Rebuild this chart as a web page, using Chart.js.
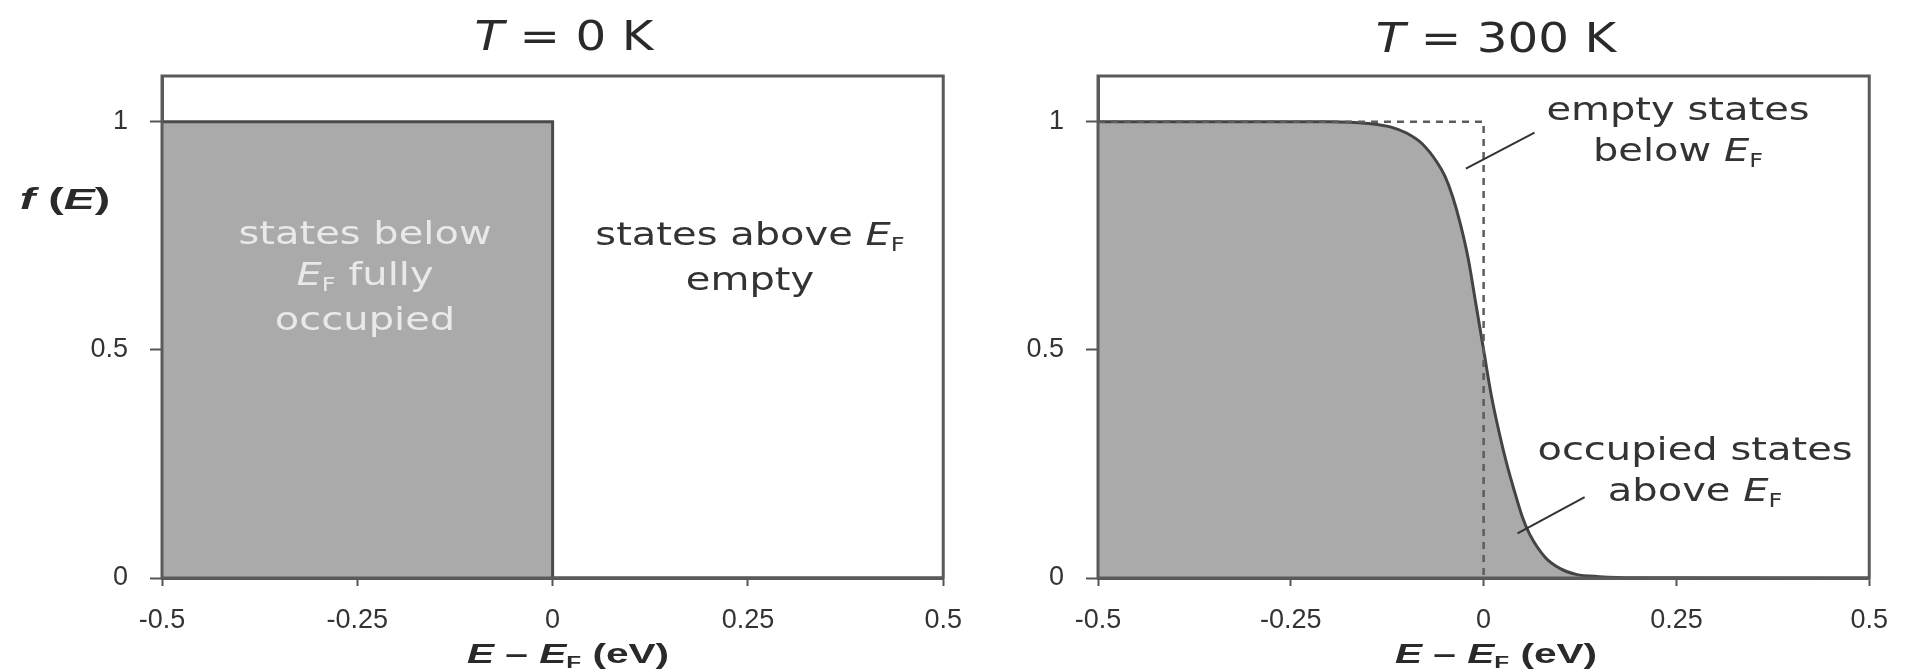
<!DOCTYPE html>
<html lang="en">
<head>
<meta charset="UTF-8">
<title>Fermi-Dirac occupancy at 0 K and 300 K</title>
<script src="https://cdn.jsdelivr.net/npm/chart.js"></script>
<style>
    body {
        margin: 0;
        width: 1906px;
        height: 671px;
        position: relative;
        overflow: hidden;
        background: #fff;
        font-family: 'DejaVu Sans', sans-serif;
        color: #2a2a2a;
    }
    .panel { position: absolute; top: 0; height: 671px; }
    #left { left: 0; width: 980px; }
    #right { left: 980px; width: 926px; }
    .lbl {
        position: absolute;
        white-space: nowrap;
        text-align: center;
        transform: translate(-50%, -50%) scaleX(1.25);
    }
    .title { font-size: 41px; transform: translate(-50%, -50%) scaleX(1.18); }
    .note { font-size: 32px; line-height: 41px; color: #333; }
    .inside { color: #e9e9e9; }
    .axis {
        font-family: 'Liberation Sans', Arial, sans-serif;
        font-weight: bold;
        font-size: 28px;
        transform: translate(-50%, -50%) scaleX(1.45);
    }
    .fe { font-size: 30px; transform: translate(-50%, -50%) scaleX(1.55); }
    .sub { font-size: 0.6em; font-style: normal; position: relative; top: 0.3em; }
</style>
</head>
<body>
    <div class="panel" id="left"><canvas id="cold"></canvas></div>
    <div class="panel" id="right"><canvas id="warm"></canvas></div>

    <div class="lbl title" style="left:564px; top:36px;"><i>T</i> = 0 K</div>
    <div class="lbl title" style="left:1496px; top:38px;"><i>T</i> = 300 K</div>

    <div class="lbl axis fe" style="left:65px; top:199px;"><i>f</i> (<i>E</i>)</div>
    <div class="lbl axis" style="left:568px; top:654px;"><i>E</i> – <i>E</i><span class="sub">F</span> (eV)</div>
    <div class="lbl axis" style="left:1496px; top:654px;"><i>E</i> – <i>E</i><span class="sub">F</span> (eV)</div>

    <div class="lbl note inside" style="left:365px; top:276px;">states below<br><i>E</i><span class="sub">F</span> fully<br>occupied</div>
    <div class="lbl note" style="left:750px; top:257px;">states above <i>E</i><span class="sub">F</span><br>empty</div>
    <div class="lbl note" style="left:1678px; top:132px;">empty states<br>below <i>E</i><span class="sub">F</span></div>
    <div class="lbl note" style="left:1695px; top:472px;">occupied states<br>above <i>E</i><span class="sub">F</span></div>

<script>
    const xTicks = [-0.5, -0.25, 0, 0.25, 0.5];
    const yTicks = [0, 0.5, 1];

    // T = 0 K : sharp step at E_F
    const coldE = [-0.5, 0, 0, 0.5];
    const coldF = [1, 1, 0, 0];

    // T = 300 K curve
    const warmE = [-0.5, -0.2, -0.15, -0.12, -0.1, -0.08, -0.06, -0.05, -0.04, -0.03, -0.02, -0.01, 0,
                   0.01, 0.02, 0.03, 0.04, 0.05, 0.06, 0.08, 0.1, 0.12, 0.15, 0.2, 0.5];
    const warmF = [1, 1, 0.996, 0.988, 0.975, 0.952, 0.91, 0.88, 0.835, 0.775, 0.7, 0.6, 0.5,
                   0.4, 0.32, 0.25, 0.19, 0.135, 0.095, 0.045, 0.02, 0.008, 0.003, 0.0005, 0];

    // dashed 0 K step drawn on the 300 K panel
    const stepE = [-0.5, 0, 0];
    const stepF = [1, 1, 0];

    // leader lines to the labels
    const emptyE = [-0.023, 0.066];
    const emptyF = [0.897, 0.976];
    const occE = [0.044, 0.131];
    const occF = [0.098, 0.177];

    const pts = (xs, ys) => xs.map((x, i) => ({ x: x, y: ys[i] }));

    // box round the plot area
    const frame = {
        id: 'frame',
        afterDatasetsDraw(chart) {
            const a = chart.chartArea, ctx = chart.ctx;
            ctx.save();
            ctx.strokeStyle = '#5a5a5a';
            ctx.lineWidth = 3;
            ctx.strokeRect(a.left, a.top, a.right - a.left, a.bottom - a.top);
            ctx.restore();
        }
    };

    const tickFont = { family: 'Liberation Sans', size: 27 };

    function axes(yWidth) {
        return {
            x: {
                type: 'linear', min: -0.5, max: 0.5,
                afterBuildTicks: s => { s.ticks = xTicks.map(v => ({ value: v })); },
                afterFit: s => { s.height = 93; },
                grid: { drawOnChartArea: false, tickLength: 8, tickColor: '#555', tickWidth: 2 },
                border: { color: '#5a5a5a', width: 3 },
                ticks: { padding: 18, color: '#333', font: tickFont, callback: v => String(v) }
            },
            y: {
                type: 'linear', min: 0, max: 1.1,
                afterBuildTicks: s => { s.ticks = yTicks.map(v => ({ value: v })); },
                afterFit: s => { s.width = yWidth; },
                grid: { drawOnChartArea: false, tickLength: 12, tickColor: '#555', tickWidth: 2 },
                border: { color: '#5a5a5a', width: 3 },
                ticks: { padding: 22, color: '#333', font: tickFont, callback: v => String(v) }
            }
        };
    }

    function panel(id, datasets, yWidth, padRight) {
        return new Chart(document.getElementById(id), {
            type: 'line',
            data: { datasets: datasets },
            options: {
                responsive: true,
                maintainAspectRatio: false,
                animation: false,
                layout: { padding: { top: 76, right: padRight, left: 0, bottom: 0 } },
                plugins: { legend: { display: false }, tooltip: { enabled: false } },
                elements: { point: { radius: 0 }, line: { tension: 0 } },
                scales: axes(yWidth)
            },
            plugins: [frame]
        });
    }

    panel('cold', [{
        data: pts(coldE, coldF),
        borderColor: '#4a4a4a', borderWidth: 3,
        backgroundColor: '#aaaaaa', fill: 'origin'
    }], 162, 29);

    panel('warm', [
        { data: pts(emptyE, emptyF), borderColor: '#333', borderWidth: 2, fill: false },
        { data: pts(occE, occF), borderColor: '#333', borderWidth: 2, fill: false },
        { data: pts(stepE, stepF), borderColor: '#5c5c5c', borderWidth: 2.5, borderDash: [7, 6], fill: false },
        {
            data: pts(warmE, warmF),
            borderColor: '#444', borderWidth: 3,
            backgroundColor: '#aaaaaa', fill: 'origin',
            cubicInterpolationMode: 'monotone'
        }
    ], 118, 33);
</script>
</body>
</html>
